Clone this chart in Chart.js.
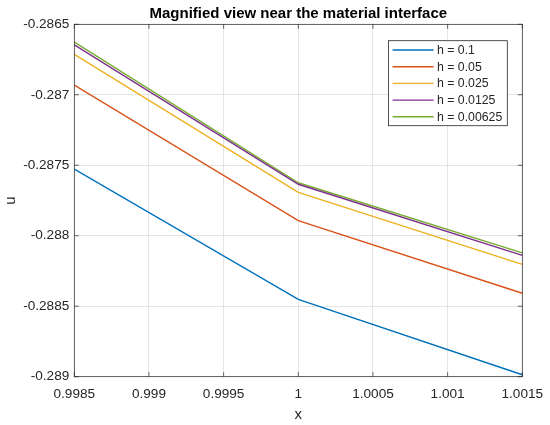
<!DOCTYPE html>
<html>
<head>
<meta charset="utf-8">
<script src="https://cdn.jsdelivr.net/npm/chart.js@4"></script>
<style>
  html, body { margin: 0; padding: 0; background: #fff; }
  #wrap { width: 550px; height: 425px; }
</style>
</head>
<body>
<div id="wrap"><canvas id="c" width="550" height="425"></canvas></div>
<script>
// Magnified view near the material interface, MATLAB style
const xVals = [0.9985, 1, 1.0015];
const seriesLabels = ['h = 0.1', 'h = 0.05', 'h = 0.025', 'h = 0.0125', 'h = 0.00625'];
const u_h1 = [-0.287527, -0.288451, -0.288986];
const u_h2 = [-0.286931, -0.287893, -0.288408];
const u_h3 = [-0.286713, -0.287692, -0.288203];
const u_h4 = [-0.286645, -0.287635, -0.288139];
const u_h5 = [-0.286626, -0.287624, -0.288122];
const seriesColors = ['#0072BD', '#D95319', '#EDB120', '#7E2F8E', '#77AC30'];

const xTickValues = [0.9985, 0.999, 0.9995, 1, 1.0005, 1.001, 1.0015];
const xTickLabels = ['0.9985', '0.999', '0.9995', '1', '1.0005', '1.001', '1.0015'];
const yTickValues = [-0.289, -0.2885, -0.288, -0.2875, -0.287, -0.2865];
const yTickLabels = ['-0.289', '-0.2885', '-0.288', '-0.2875', '-0.287', '-0.2865'];
const titleText = 'Magnified view near the material interface';

const FONT = '"Liberation Sans", Arial, Helvetica, sans-serif';
const AXIS_COLOR = '#262626';

const allSeries = [u_h1, u_h2, u_h3, u_h4, u_h5];
const datasets = allSeries.map((ys, i) => ({
  label: seriesLabels[i],
  data: ys.map((y, j) => ({ x: xVals[j], y: y })),
  borderColor: seriesColors[i],
  backgroundColor: seriesColors[i],
  borderWidth: 1.4,
  pointRadius: 0,
  tension: 0,
  fill: false
}));

// title over the axes, box, inward ticks and the legend inside the axes like MATLAB
const matlabAxes = {
  id: 'matlabAxes',
  afterDatasetsDraw(chart) {
    const ctx = chart.ctx;
    const a = chart.chartArea;
    const xs = chart.scales.x, ys = chart.scales.y;
    const tl = 4.5;
    ctx.save();

    ctx.fillStyle = '#000';
    ctx.font = 'bold 15px ' + FONT;
    ctx.textAlign = 'center';
    ctx.textBaseline = 'alphabetic';
    ctx.fillText(titleText, (a.left + a.right) / 2, 17.8);

    ctx.strokeStyle = AXIS_COLOR;
    ctx.lineWidth = 0.7;
    ctx.beginPath();
    xTickValues.forEach(v => {
      const px = xs.getPixelForValue(v);
      ctx.moveTo(px, a.bottom); ctx.lineTo(px, a.bottom - tl);
      ctx.moveTo(px, a.top); ctx.lineTo(px, a.top + tl);
    });
    yTickValues.forEach(v => {
      const py = ys.getPixelForValue(v);
      ctx.moveTo(a.left, py); ctx.lineTo(a.left + tl, py);
      ctx.moveTo(a.right, py); ctx.lineTo(a.right - tl, py);
    });
    ctx.stroke();
    ctx.strokeRect(a.left, a.top, a.right - a.left, a.bottom - a.top);

    // legend
    const ds = chart.data.datasets;
    const rowH = 16.7;
    const lineLen = 41;
    ctx.font = '12.3px ' + FONT;
    let maxW = 0;
    ds.forEach(d => { maxW = Math.max(maxW, ctx.measureText(d.label).width); });
    const boxW = 4 + lineLen + 3.4 + maxW + 5;
    const boxH = rowH * ds.length + 1.5;
    const bx = a.right - 15 - boxW;
    const by = a.top + 16.4;
    ctx.fillStyle = '#ffffff';
    ctx.fillRect(bx, by, boxW, boxH);
    ctx.lineWidth = 0.8;
    ctx.strokeRect(bx, by, boxW, boxH);
    ctx.textBaseline = 'middle';
    ctx.textAlign = 'left';
    ds.forEach((d, i) => {
      const cy = by + 9.3 + i * rowH;
      ctx.strokeStyle = d.borderColor;
      ctx.lineWidth = 1.4;
      ctx.beginPath();
      ctx.moveTo(bx + 4, cy);
      ctx.lineTo(bx + 4 + lineLen, cy);
      ctx.stroke();
      ctx.fillStyle = AXIS_COLOR;
      ctx.fillText(d.label, bx + 4 + lineLen + 3.4, cy + 0.5);
    });
    ctx.restore();
  }
};

new Chart(document.getElementById('c'), {
  type: 'line',
  data: { datasets: datasets },
  options: {
    responsive: false,
    animation: false,
    layout: { padding: { left: 0, right: 27.7, top: 24.3, bottom: 0 } },
    plugins: {
      legend: { display: false },
      tooltip: { enabled: false },
      title: { display: false }
    },
    scales: {
      x: {
        type: 'linear',
        min: 0.9985,
        max: 1.0015,
        afterBuildTicks: s => { s.ticks = xTickValues.map(v => ({ value: v })); },
        afterFit: s => { s.height = 48.3; s.paddingLeft = 0; s.paddingRight = 0; },
        ticks: {
          color: AXIS_COLOR,
          font: { family: FONT, size: 13.6 },
          padding: 9,
          maxRotation: 0,
          autoSkip: false,
          callback: (v, i) => xTickLabels[i]
        },
        grid: { color: '#e4e4e4', lineWidth: 1, drawTicks: false },
        border: { display: false },
        title: {
          display: true,
          text: 'x',
          color: AXIS_COLOR,
          font: { family: FONT, size: 15 },
          padding: { top: 0, bottom: 1 }
        }
      },
      y: {
        type: 'linear',
        min: -0.289,
        max: -0.2865,
        afterBuildTicks: s => { s.ticks = yTickValues.map(v => ({ value: v })); },
        afterFit: s => { s.width = 74.3; s.paddingTop = 0; s.paddingBottom = 0; },
        ticks: {
          color: AXIS_COLOR,
          font: { family: FONT, size: 13.6 },
          padding: 5,
          autoSkip: false,
          callback: (v, i) => yTickLabels[i]
        },
        grid: { color: '#e4e4e4', lineWidth: 1, drawTicks: false },
        border: { display: false },
        title: {
          display: true,
          text: 'u',
          color: AXIS_COLOR,
          font: { family: FONT, size: 15 },
          padding: { top: 2, bottom: 0 }
        }
      }
    }
  },
  plugins: [matlabAxes]
});
</script>
</body>
</html>
